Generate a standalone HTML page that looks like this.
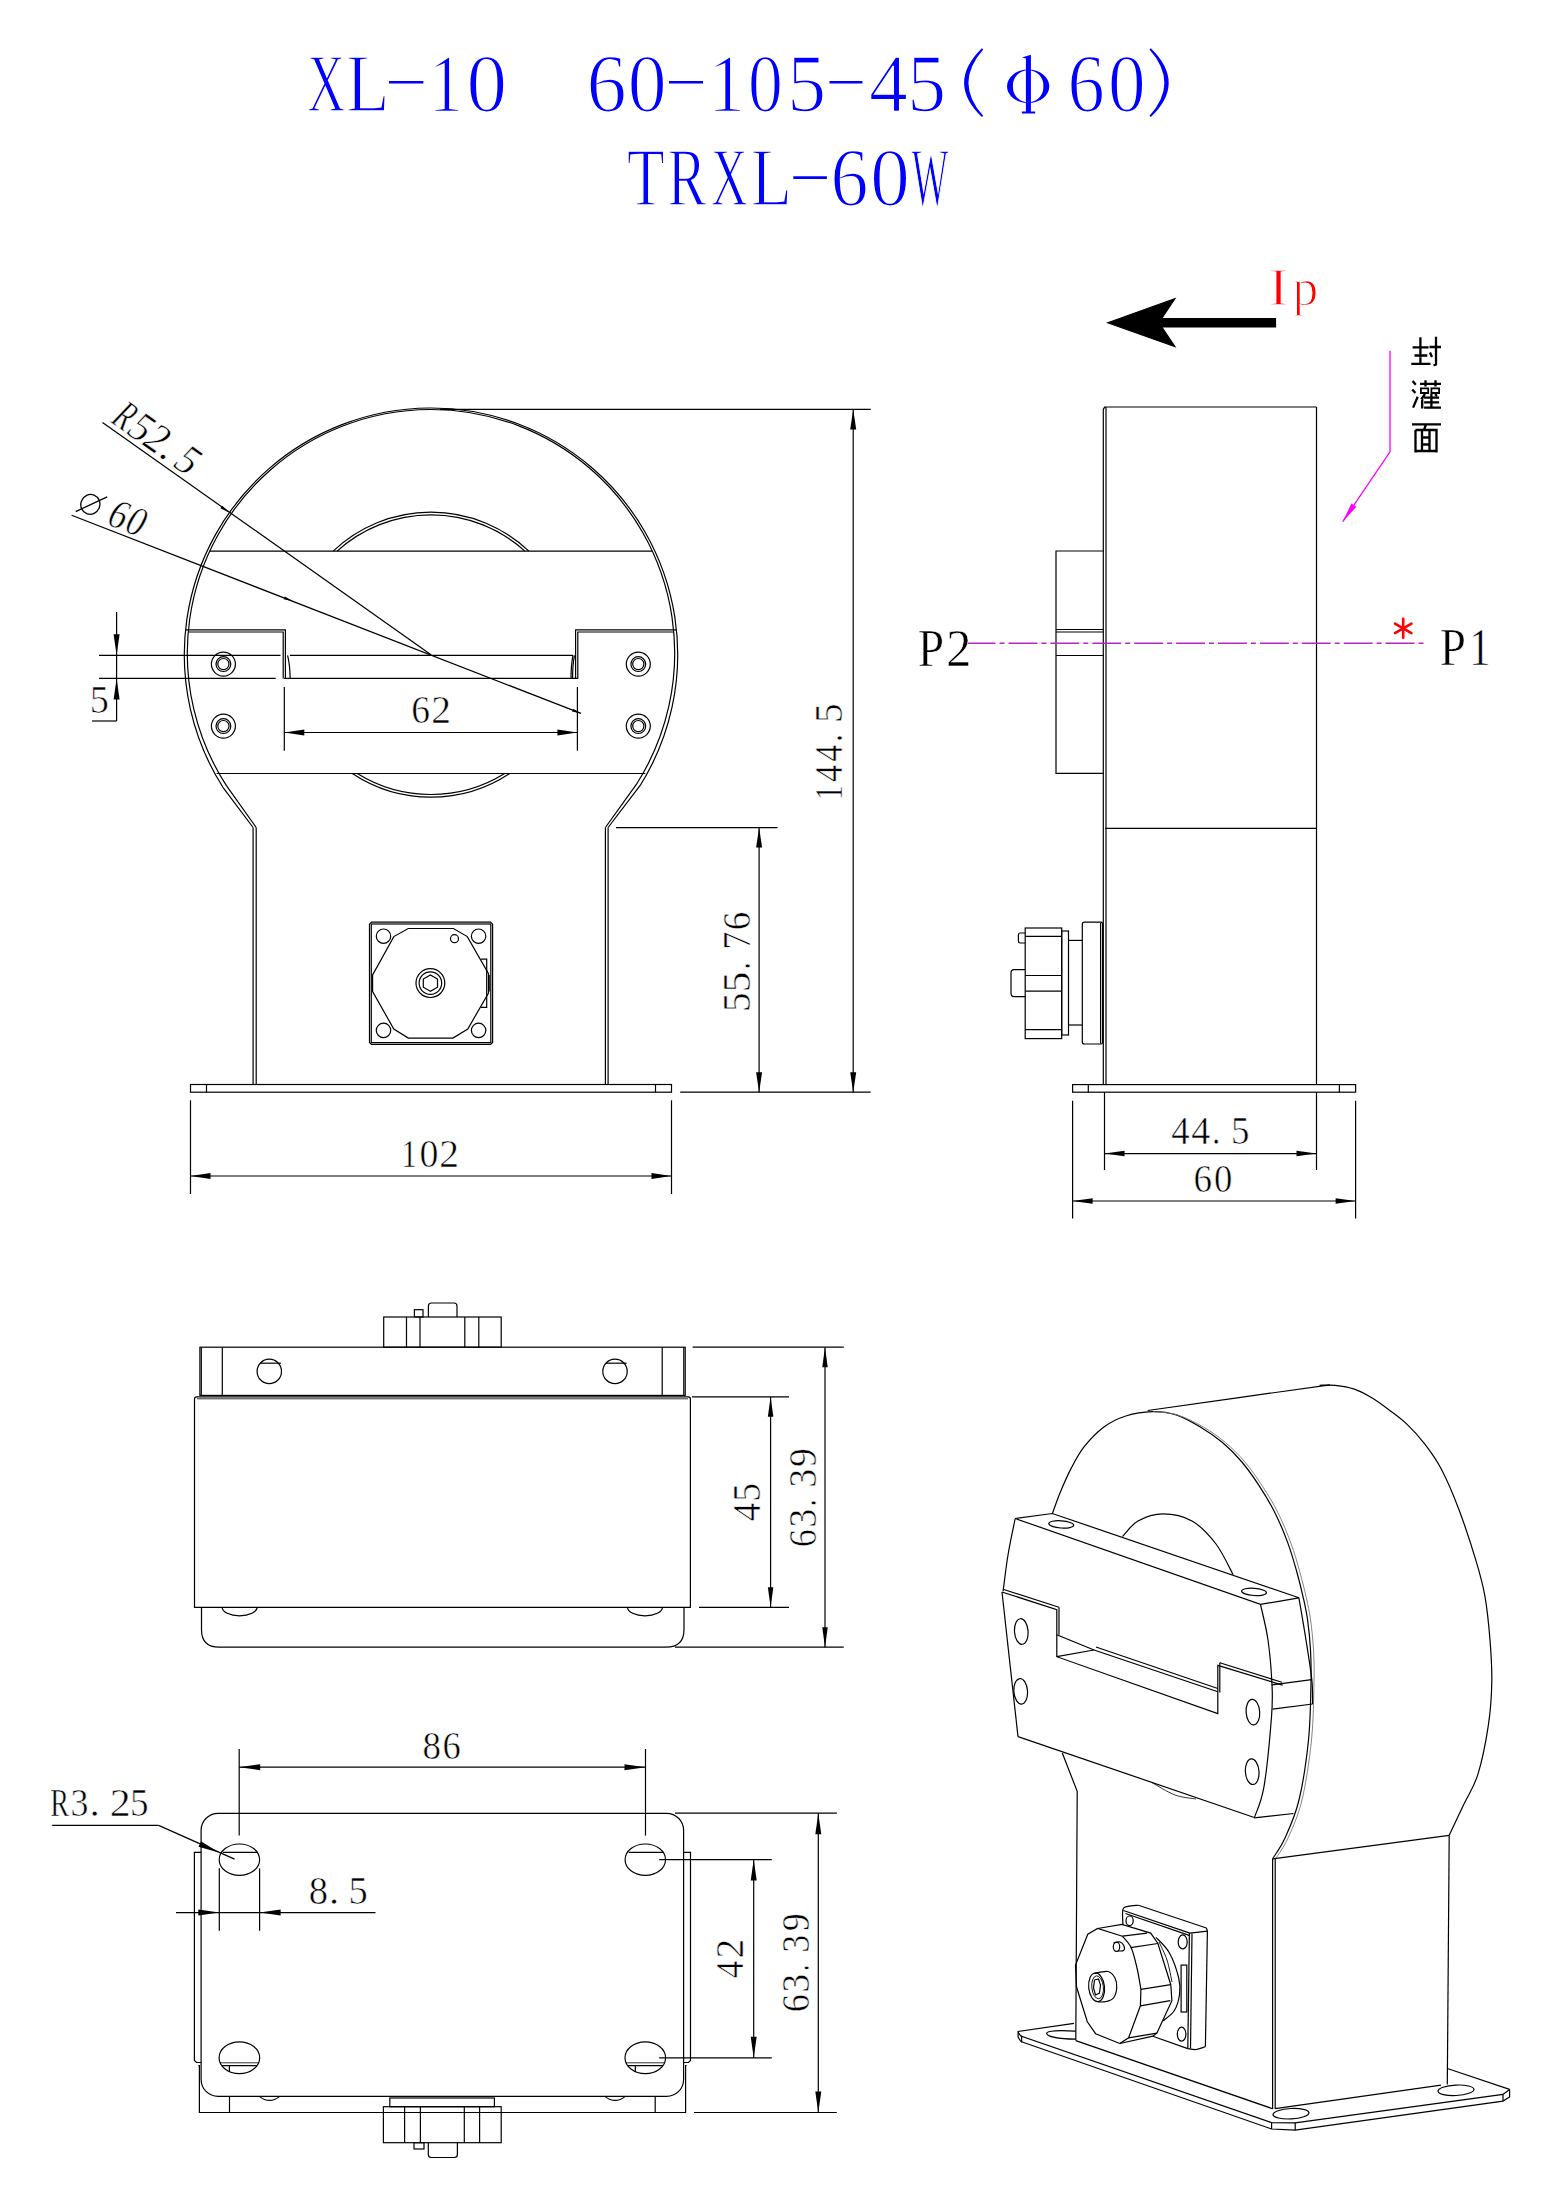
<!DOCTYPE html>
<html><head><meta charset="utf-8"><style>
html,body{margin:0;padding:0;background:#fff;}
svg{display:block;font-family:"Liberation Serif",serif;}
</style></head><body>
<svg width="1552" height="2191" viewBox="0 0 1552 2191">
<rect x="0" y="0" width="1552" height="2191" fill="#fff" stroke="none"/>
<g fill="#0000ff" stroke="#fff" stroke-width="1.6"><text transform="translate(307.35 110.8) scale(0.64 1)" font-size="81.86">X</text><text transform="translate(346.06 110.8) scale(0.87 1)" font-size="81.86">L</text><text transform="translate(428.73 110.8) scale(0.84 1)" font-size="81.86">1</text><text transform="translate(466.62 110.8) scale(0.99 1)" font-size="81.86">0</text><text transform="translate(586.45 110.8) scale(0.98 1)" font-size="81.86">6</text><text transform="translate(627.83 110.8) scale(0.95 1)" font-size="81.86">0</text><text transform="translate(707.93 110.8) scale(0.91 1)" font-size="81.86">1</text><text transform="translate(748.05 110.8) scale(0.85 1)" font-size="81.86">0</text><text transform="translate(787.19 110.8) scale(0.95 1)" font-size="81.86">5</text><text transform="translate(869.08 110.8) scale(0.95 1)" font-size="81.86">4</text><text transform="translate(907.2 110.8) scale(0.95 1)" font-size="81.86">5</text><text transform="translate(1067.6 110.8) scale(0.91 1)" font-size="81.86">6</text><text transform="translate(1107.93 110.8) scale(0.92 1)" font-size="81.86">0</text></g>
<g stroke="#0000ff" stroke-width="2.6">
<line x1="389" y1="82.3" x2="423.4" y2="82.3"/>
<line x1="669" y1="82.3" x2="703" y2="82.3"/>
<line x1="829.5" y1="82.3" x2="862.4" y2="82.3"/>
<line x1="793.3" y1="177.6" x2="826.9" y2="177.6"/>
</g>
<path fill="#0000ff" stroke="none" d="M 981.9 48.2 Q 946.3 83 981.9 117 L 983.2 115.8 Q 953.7 83 983.2 49.4 Z"/>
<path fill="#0000ff" stroke="none" d="M 1150.8 48.2 Q 1186.6 83 1150.8 117 L 1149.5 115.8 Q 1179.2 83 1149.5 49.4 Z"/>
<path fill="#0000ff" stroke="none" fill-rule="evenodd" d="M 1007 86.3 A 21.1 16.7 0 1 0 1049.3 86.3 A 21.1 16.7 0 1 0 1007 86.3 Z M 1013 86.3 A 15.2 14.8 0 1 0 1043.3 86.3 A 15.2 14.8 0 1 0 1013 86.3 Z"/>
<path fill="#0000ff" stroke="none" d="M 1025.9 58.5 L 1022 57.5 L 1030.9 54.8 V 111.6 H 1035.2 V 113.6 H 1021.9 V 111.6 H 1025.9 Z"/>
<g fill="#0000ff" stroke="#fff" stroke-width="1.6"><text transform="translate(626.98 205.4) scale(0.74 1)" font-size="83.23">T</text><text transform="translate(667.52 205.4) scale(0.7 1)" font-size="83.23">R</text><text transform="translate(710.98 205.4) scale(0.61 1)" font-size="83.23">X</text><text transform="translate(750.75 205.4) scale(0.81 1)" font-size="83.23">L</text><text transform="translate(830.53 205.4) scale(0.91 1)" font-size="83.23">6</text><text transform="translate(870.28 205.4) scale(0.95 1)" font-size="83.23">0</text><text transform="translate(911.56 205.4) scale(0.47 1)" font-size="83.23">W</text></g>
<g fill="none" stroke="#000" stroke-width="1.2">
<path d="M 253.1 827.5 L 222.97 787.3 A 246.7 246.7 0 1 1 640.36 785.2 L 608.1 827.5"/>
<path d="M 256.2 827.5 L 226.27 785.4 A 243.7 243.7 0 1 1 637.07 783.3 L 605.4 827.5"/>
<line x1="253.1" y1="827.5" x2="253.1" y2="1084.5"/>
<line x1="256.2" y1="827.5" x2="256.2" y2="1084.5"/>
<line x1="605.4" y1="827.5" x2="605.4" y2="1084.5"/>
<line x1="608.1" y1="827.5" x2="608.1" y2="1084.5"/>
<rect x="190.5" y="1084.5" width="481" height="7.7"/>
<line x1="206.5" y1="1084.5" x2="206.5" y2="1092.2"/>
<line x1="655.5" y1="1084.5" x2="655.5" y2="1092.2"/>
<line x1="209.51" y1="551.1" x2="652.49" y2="551.1"/>
<line x1="216.57" y1="773.5" x2="645.43" y2="773.5"/>
<path d="M 333.16 551.1 A 142.5 142.5 0 0 1 528.84 551.1"/>
<path d="M 352.31 773.5 A 142.5 142.5 0 0 0 509.69 773.5"/>
<path d="M 337.13 551.1 A 139.8 139.8 0 0 1 524.87 551.1"/>
<path d="M 357.31 773.5 A 139.8 139.8 0 0 0 504.69 773.5"/>
<polyline points="185.54,629.8 285.4,629.8 285.4,678.4"/>
<polyline points="575.6,678.4 575.6,629.8 676.46,629.8"/>
<polyline points="188.41,632 283.2,632 283.2,678.4"/>
<polyline points="577.8,678.4 577.8,632 673.59,632"/>
<line x1="99" y1="655.3" x2="280.5" y2="655.3"/>
<line x1="290" y1="655.3" x2="573" y2="655.3"/>
<line x1="99" y1="678.4" x2="275.7" y2="678.4"/>
<line x1="284" y1="678.4" x2="578" y2="678.4"/>
<path d="M 287.6 655.3 Q 290 665 290.2 679"/>
<path d="M 573 655.3 Q 571 665 571 678.4"/>
<path d="M 574.5 655.3 Q 572.5 665 572.6 678.4"/>
<circle cx="223.4" cy="664.1" r="12"/>
<circle cx="223.4" cy="664.1" r="7.4"/>
<circle cx="223.4" cy="664.1" r="5.6"/>
<circle cx="223.4" cy="726.1" r="12"/>
<circle cx="223.4" cy="726.1" r="7.4"/>
<circle cx="223.4" cy="726.1" r="5.6"/>
<circle cx="638.3" cy="664.1" r="12"/>
<circle cx="638.3" cy="664.1" r="7.4"/>
<circle cx="638.3" cy="664.1" r="5.6"/>
<circle cx="638.3" cy="726.1" r="12"/>
<circle cx="638.3" cy="726.1" r="7.4"/>
<circle cx="638.3" cy="726.1" r="5.6"/>
<polygon points="371.5,922.2 490.6,922.2 492.6,924.2 492.6,1042.4 490.6,1044.4 371.5,1044.4 369.5,1042.4 369.5,924.2"/>
<rect x="371.3" y="924" width="119.5" height="118.6"/>
<polygon points="408.3,928.5 453.4,928.5 467.3,936.6 488.5,973.6 488.5,993 467.8,1029 452.9,1038.1 408.3,1038.1 393.8,1029 372.6,991.6 372.6,975 393.8,936.6"/>
<polyline points="481,959.2 486.7,959.2 486.7,1007.4 481,1007.4"/>
<line x1="489.2" y1="975" x2="489.2" y2="991.6"/>
<circle cx="383.5" cy="936.2" r="7.2"/>
<circle cx="383.5" cy="1030.4" r="7.2"/>
<circle cx="478.6" cy="936.2" r="7.2"/>
<circle cx="478.6" cy="1030.4" r="7.2"/>
<circle cx="454.5" cy="938.7" r="4"/>
<circle cx="430.4" cy="983.1" r="14.4"/>
<circle cx="430.4" cy="983.1" r="11.3"/>
<polygon points="430.4,991.3 423.3,987.2 423.3,979 430.4,974.9 437.5,979 437.5,987.2"/>
<line x1="102.5" y1="422.5" x2="431" y2="654.7"/>
<polygon points="229.5,512.7 220.47,508.15 222.2,505.7" fill="#000" stroke="none"/>
<line x1="71.6" y1="515.3" x2="581" y2="713.4"/>
<polygon points="292.7,601.1 283.77,599.24 284.86,596.44" fill="#000" stroke="none"/>
<polygon points="581,713.4 572.07,711.54 573.16,708.74" fill="#000" stroke="none"/>
<line x1="116.6" y1="612" x2="116.6" y2="721"/>
<line x1="92" y1="721" x2="116.6" y2="721"/>
<polygon points="116.6,655.3 113.6,634.3 119.6,634.3" fill="#000" stroke="none"/>
<polygon points="116.6,678.4 119.6,699.4 113.6,699.4" fill="#000" stroke="none"/>
<line x1="284.3" y1="687" x2="284.3" y2="750.7"/>
<line x1="577.4" y1="687" x2="577.4" y2="750.7"/>
<line x1="284.3" y1="732.5" x2="577.4" y2="732.5"/>
<polygon points="284.3,732.5 304.3,729.5 304.3,735.5" fill="#000" stroke="none"/>
<polygon points="577.4,732.5 557.4,735.5 557.4,729.5" fill="#000" stroke="none"/>
<line x1="190.5" y1="1100.3" x2="190.5" y2="1194"/>
<line x1="671.5" y1="1100.3" x2="671.5" y2="1194"/>
<line x1="190.5" y1="1176" x2="671.5" y2="1176"/>
<polygon points="190.5,1176 210.5,1173 210.5,1179" fill="#000" stroke="none"/>
<polygon points="671.5,1176 651.5,1179 651.5,1173" fill="#000" stroke="none"/>
<line x1="440" y1="409.4" x2="870.8" y2="409.4"/>
<line x1="680.2" y1="1092.2" x2="870.6" y2="1092.2"/>
<line x1="616" y1="827.6" x2="777.6" y2="827.6"/>
<line x1="853.2" y1="409.4" x2="853.2" y2="1092.2"/>
<polygon points="853.2,409.4 856.2,429.4 850.2,429.4" fill="#000" stroke="none"/>
<polygon points="853.2,1092.2 850.2,1072.2 856.2,1072.2" fill="#000" stroke="none"/>
<line x1="759.1" y1="827.6" x2="759.1" y2="1092.2"/>
<polygon points="759.1,827.6 762.1,847.6 756.1,847.6" fill="#000" stroke="none"/>
<polygon points="759.1,1092.2 756.1,1072.2 762.1,1072.2" fill="#000" stroke="none"/>
<line x1="1104.5" y1="407" x2="1316.5" y2="407"/>
<line x1="1316.5" y1="407" x2="1316.5" y2="1084.5"/>
<line x1="1103.3" y1="409" x2="1103.3" y2="1084.5"/>
<line x1="1106" y1="407" x2="1106" y2="1084.5"/>
<line x1="1103.3" y1="409" x2="1105" y2="407"/>
<line x1="1105" y1="828.3" x2="1316.5" y2="828.3"/>
<polyline points="1104,551 1056,551 1056,773.4 1104,773.4"/>
<line x1="1056" y1="629.5" x2="1104" y2="629.5"/>
<line x1="1056" y1="632" x2="1104" y2="632"/>
<line x1="1056" y1="655.5" x2="1104" y2="655.5"/>
<path d="M 1084.5 922.2 H 1101 Q 1102.6 922.2 1102.6 924 V 1042.2 Q 1102.6 1044 1101 1044 H 1084.5 Q 1082.3 1044 1082.3 1042 V 924.2 Q 1082.3 922.2 1084.5 922.2 Z"/>
<line x1="1100.6" y1="923" x2="1100.6" y2="1043.5"/>
<rect x="1025.2" y="928" width="36.5" height="110.6"/>
<line x1="1025.2" y1="936.3" x2="1061.7" y2="936.3"/>
<line x1="1025.2" y1="975.5" x2="1061.7" y2="975.5"/>
<line x1="1025.2" y1="991.2" x2="1061.7" y2="991.2"/>
<line x1="1025.2" y1="1029.7" x2="1061.7" y2="1029.7"/>
<rect x="1061.7" y="931" width="6.8" height="104"/>
<polyline points="1068.5,940.4 1082.3,940.4"/>
<polyline points="1068.5,1025 1082.3,1025"/>
<path d="M 1025.2 933 H 1020 Q 1018.4 933 1018.4 935 V 941 Q 1018.4 943 1020 943 H 1025.2"/>
<path d="M 1025.2 969.6 H 1014 Q 1011 969.6 1011 973 V 993 Q 1011 996.6 1014 996.6 H 1025.2"/>
<rect x="1072.6" y="1084.6" width="283" height="7.6"/>
<line x1="1088.3" y1="1084.6" x2="1088.3" y2="1092.2"/>
<line x1="1339.4" y1="1084.6" x2="1339.4" y2="1092.2"/>
<line x1="1104.5" y1="1092.2" x2="1104.5" y2="1170"/>
<line x1="1316.5" y1="1092.2" x2="1316.5" y2="1170"/>
<line x1="1104.5" y1="1153.6" x2="1316.5" y2="1153.6"/>
<polygon points="1104.5,1153.6 1124.5,1150.85 1124.5,1156.35" fill="#000" stroke="none"/>
<polygon points="1316.5,1153.6 1296.5,1156.35 1296.5,1150.85" fill="#000" stroke="none"/>
<line x1="1072.6" y1="1100.8" x2="1072.6" y2="1218.6"/>
<line x1="1355.6" y1="1100.8" x2="1355.6" y2="1218.6"/>
<line x1="1072.6" y1="1201" x2="1355.6" y2="1201"/>
<polygon points="1072.6,1201 1092.6,1198.25 1092.6,1203.75" fill="#000" stroke="none"/>
<polygon points="1355.6,1201 1335.6,1203.75 1335.6,1198.25" fill="#000" stroke="none"/>
<rect x="199.9" y="1347.2" width="485.3" height="48.2"/>
<line x1="201.3" y1="1347.2" x2="201.3" y2="1395.4"/>
<line x1="683.8" y1="1347.2" x2="683.8" y2="1395.4"/>
<line x1="222.3" y1="1347.2" x2="222.3" y2="1395.4"/>
<line x1="662.2" y1="1347.2" x2="662.2" y2="1395.4"/>
<circle cx="269.3" cy="1371.4" r="12.2"/>
<line x1="260" y1="1363.2" x2="280.9" y2="1363.2"/>
<circle cx="615" cy="1371.4" r="12.2"/>
<line x1="605.7" y1="1363.2" x2="626.6" y2="1363.2"/>
<path d="M 194.5 1607.3 V 1399 Q 194.5 1396.8 196.7 1396.8 H 688.2 Q 690.4 1396.8 690.4 1399 V 1607.3 Z"/>
<line x1="197" y1="1398.8" x2="688" y2="1398.8" stroke-width="0.8"/>
<path d="M 201.5 1607.3 V 1629.5 Q 201.5 1647.2 219 1647.2 H 666 Q 684 1647.2 684 1629.5 V 1607.3"/>
<path d="M 222.1 1607.3 A 17.5 8.5 0 0 0 257.1 1607.3"/>
<path d="M 627.5 1607.3 A 17.5 8.5 0 0 0 662.5 1607.3"/>
<rect x="383.7" y="1317" width="117.5" height="30.2"/>
<line x1="406.5" y1="1317" x2="406.5" y2="1347.2"/>
<line x1="420" y1="1317" x2="420" y2="1347.2"/>
<line x1="464.8" y1="1317" x2="464.8" y2="1347.2"/>
<line x1="478.8" y1="1317" x2="478.8" y2="1347.2"/>
<path d="M 428.4 1317 V 1306 Q 428.4 1303 431.5 1303 H 454 Q 457 1303 457 1306 V 1317"/>
<rect x="414.4" y="1309.7" width="8.6" height="7.3"/>
<line x1="692.6" y1="1347.2" x2="843.8" y2="1347.2"/>
<line x1="692" y1="1396.8" x2="789" y2="1396.8"/>
<line x1="699" y1="1607.3" x2="789" y2="1607.3"/>
<line x1="675" y1="1647.2" x2="843.8" y2="1647.2"/>
<line x1="770.6" y1="1396.8" x2="770.6" y2="1607.3"/>
<polygon points="770.6,1396.8 773.35,1416.8 767.85,1416.8" fill="#000" stroke="none"/>
<polygon points="770.6,1607.3 767.85,1587.3 773.35,1587.3" fill="#000" stroke="none"/>
<line x1="825" y1="1347.2" x2="825" y2="1647.2"/>
<polygon points="825,1347.2 827.75,1367.2 822.25,1367.2" fill="#000" stroke="none"/>
<polygon points="825,1647.2 822.25,1627.2 827.75,1627.2" fill="#000" stroke="none"/>
<rect x="201.1" y="1813.3" width="482.5" height="283.1" rx="17"/>
<path d="M 201.1 2062.5 H 196.5 L 194.4 2060.5 V 1852.3 H 201.1"/>
<path d="M 683.6 2062.5 H 688.5 L 690.5 2060.5 V 1852.3 H 683.6"/>
<polyline points="198.4,2065.6 199.4,2065.6 199.4,2112.5 685.6,2112.5 685.6,2065.6 686.6,2065.6"/>
<line x1="229.5" y1="2096.4" x2="229.5" y2="2112.5"/>
<line x1="655.2" y1="2096.4" x2="655.2" y2="2112.5"/>
<ellipse cx="239.4" cy="1859.7" rx="20.2" ry="15.7"/>
<line x1="222.9" y1="1852.3" x2="257.4" y2="1852.3"/>
<ellipse cx="239.4" cy="2057.8" rx="20.3" ry="15.9"/>
<line x1="219.9" y1="2062.8" x2="258.9" y2="2062.8" stroke-width="0.8"/>
<line x1="221.9" y1="2065.6" x2="256.9" y2="2065.6"/>
<line x1="229.4" y1="2065.6" x2="229.4" y2="2072"/>
<ellipse cx="645.3" cy="1859.7" rx="20.2" ry="15.7"/>
<line x1="628.8" y1="1852.3" x2="663.3" y2="1852.3"/>
<ellipse cx="645.3" cy="2057.8" rx="20.3" ry="15.9"/>
<line x1="625.8" y1="2062.8" x2="664.8" y2="2062.8" stroke-width="0.8"/>
<line x1="627.8" y1="2065.6" x2="662.8" y2="2065.6"/>
<line x1="635.3" y1="2065.6" x2="635.3" y2="2072"/>
<path d="M 259.2 2096.4 Q 269.5 2104.5 279.8 2096.4"/>
<path d="M 604.8 2096.4 Q 615.1 2104.5 625.4 2096.4"/>
<rect x="389.8" y="2098" width="104.6" height="8.7"/>
<rect x="383.4" y="2106.7" width="117.8" height="36"/>
<line x1="404.6" y1="2106.7" x2="404.6" y2="2142.7"/>
<line x1="420.4" y1="2106.7" x2="420.4" y2="2142.7"/>
<line x1="464.3" y1="2106.7" x2="464.3" y2="2142.7"/>
<line x1="479.6" y1="2106.7" x2="479.6" y2="2142.7"/>
<path d="M 428.3 2142.7 V 2154.5 Q 428.3 2157.5 431.3 2157.5 H 454.4 Q 457.4 2157.5 457.4 2154.5 V 2142.7"/>
<rect x="414" y="2142.7" width="10" height="6.3"/>
<line x1="239.2" y1="1749" x2="239.2" y2="1835.6"/>
<line x1="645.5" y1="1749" x2="645.5" y2="1835.6"/>
<line x1="239.2" y1="1767.2" x2="645.5" y2="1767.2"/>
<polygon points="239.2,1767.2 260.2,1764.2 260.2,1770.2" fill="#000" stroke="none"/>
<polygon points="645.5,1767.2 624.5,1770.2 624.5,1764.2" fill="#000" stroke="none"/>
<line x1="52.2" y1="1825.4" x2="158.6" y2="1825.4"/>
<line x1="158.6" y1="1825.4" x2="234.5" y2="1859.1"/>
<polygon points="218.9,1852.5 198.52,1846.63 200.98,1841.16" fill="#000" stroke="none"/>
<line x1="219.3" y1="1868.3" x2="219.3" y2="1930.7"/>
<line x1="259.6" y1="1868.3" x2="259.6" y2="1930.7"/>
<line x1="176" y1="1912.6" x2="375.5" y2="1912.6"/>
<polygon points="219.3,1912.6 198.3,1915.6 198.3,1909.6" fill="#000" stroke="none"/>
<polygon points="259.6,1912.6 280.6,1909.6 280.6,1915.6" fill="#000" stroke="none"/>
<line x1="659.2" y1="1859.6" x2="771.8" y2="1859.6"/>
<line x1="659.2" y1="2057.8" x2="771.8" y2="2057.8"/>
<line x1="753.7" y1="1859.6" x2="753.7" y2="2057.8"/>
<polygon points="753.7,1859.6 756.7,1880.6 750.7,1880.6" fill="#000" stroke="none"/>
<polygon points="753.7,2057.8 750.7,2036.8 756.7,2036.8" fill="#000" stroke="none"/>
<line x1="675" y1="1813.2" x2="836.8" y2="1813.2"/>
<line x1="694" y1="2112.5" x2="836.8" y2="2112.5"/>
<line x1="818.3" y1="1813.2" x2="818.3" y2="2112.5"/>
<polygon points="818.3,1813.2 821.3,1834.2 815.3,1834.2" fill="#000" stroke="none"/>
<polygon points="818.3,2112.5 815.3,2091.5 821.3,2091.5" fill="#000" stroke="none"/>
<polygon points="1107.7,322.7 1174.9,298.7 1161.7,318.5 1275.5,318.5 1275.5,326.9 1161.7,326.9 1174.9,346.7" fill="#000"/>
<line x1="966.6" y1="643.2" x2="1426.9" y2="643.2" stroke="#b428c4" stroke-width="1.4" stroke-dasharray="28.9 4 5 4"/>
<polyline points="1390,350.7 1390,451.8 1342.7,521.7" stroke-width="1.3" stroke="#ff00ff"/>
<polygon points="1342.7,521.7 1351.42,503.45 1356.39,506.82" fill="#ff00ff" stroke="none"/>
<path d="M 1147.7 1410.5 C 1178.08 1406.22 1299.62 1389.08 1330 1384.8"/>
<path d="M 1319.6 1385.3 C 1322.2 1385.3 1329.4 1384.67 1335.2 1385.3 C 1341 1385.93 1348.3 1387.02 1354.4 1389.1 C 1360.5 1391.18 1366 1394.32 1371.8 1397.8 C 1377.6 1401.28 1383.4 1405.65 1389.2 1410 C 1395 1414.35 1400.8 1418.38 1406.6 1423.9 C 1412.4 1429.42 1418.2 1435.55 1424 1443.1 C 1429.8 1450.65 1435.6 1458.18 1441.4 1469.2 C 1447.2 1480.22 1453 1493.83 1458.8 1509.2 C 1464.6 1524.57 1471.85 1546.9 1476.2 1561.4 C 1480.55 1575.9 1482.6 1583.1 1484.9 1596.2 C 1487.2 1609.3 1488.85 1625.67 1490 1640 C 1491.15 1654.33 1492.08 1667.92 1491.8 1682.2 C 1491.52 1696.48 1490.62 1710.33 1488.3 1725.7 C 1485.98 1741.07 1481.95 1761.35 1477.9 1774.4 C 1473.85 1787.45 1468.78 1793.85 1464 1804 C 1459.22 1814.15 1451.67 1830.08 1449.2 1835.3"/>
<path d="M 1052.4 1513.5 C 1053.68 1510.03 1057 1500.18 1060.1 1492.7 C 1063.2 1485.22 1066.98 1476.27 1071 1468.6 C 1075.02 1460.93 1078.72 1453.63 1084.2 1446.7 C 1089.68 1439.77 1096.97 1432.12 1103.9 1427 C 1110.83 1421.88 1117.77 1418.57 1125.8 1416 C 1133.83 1413.43 1143.7 1411.78 1152.1 1411.6 C 1160.5 1411.42 1168.17 1412.33 1176.2 1414.9 C 1184.23 1417.47 1192.63 1422.43 1200.3 1427 C 1207.97 1431.57 1215.27 1436.47 1222.2 1442.3 C 1229.13 1448.13 1235.7 1454.7 1241.9 1462 C 1248.1 1469.3 1253.92 1477.7 1259.4 1486.1 C 1264.88 1494.5 1270.05 1502.9 1274.8 1512.4 C 1279.55 1521.9 1284.25 1533.25 1287.9 1543.1 C 1291.55 1552.95 1294.13 1562.38 1296.7 1571.5 C 1299.27 1580.62 1301.48 1589.72 1303.3 1597.8 C 1305.12 1605.88 1306.4 1611.3 1307.6 1620 C 1308.8 1628.7 1309.93 1639.63 1310.5 1650 C 1311.07 1660.37 1311.33 1667.2 1311 1682.2 C 1310.67 1697.2 1310.5 1720.37 1308.5 1740 C 1306.5 1759.63 1302.92 1783.67 1299 1800 C 1295.08 1816.33 1289.4 1828.2 1285 1838 C 1280.6 1847.8 1274.67 1855.33 1272.6 1858.8"/>
<path d="M 1153.1 1411.6 C 1157.12 1412.15 1168.83 1412.33 1177.2 1414.9 C 1185.57 1417.47 1195.3 1422.43 1203.3 1427 C 1211.3 1431.57 1218.27 1436.47 1225.2 1442.3 C 1232.13 1448.13 1238.7 1454.7 1244.9 1462 C 1251.1 1469.3 1256.92 1477.7 1262.4 1486.1 C 1267.88 1494.5 1273.05 1502.9 1277.8 1512.4 C 1282.55 1521.9 1287.25 1533.25 1290.9 1543.1 C 1294.55 1552.95 1297.13 1562.38 1299.7 1571.5 C 1302.27 1580.62 1304.48 1589.72 1306.3 1597.8 C 1308.12 1605.88 1309.4 1611.3 1310.6 1620 C 1311.8 1628.7 1312.93 1639.63 1313.5 1650 C 1314.07 1660.37 1314.33 1667.2 1314 1682.2 C 1313.67 1697.2 1313.5 1720.37 1311.5 1740 C 1309.5 1759.63 1305.92 1783.67 1302 1800 C 1298.08 1816.33 1292.4 1828.2 1288 1838 C 1283.6 1847.8 1277.67 1855.33 1275.6 1858.8" stroke-width="0.9" stroke="#777"/>
<path d="M 1122.5 1536.5 C 1125.08 1533.92 1131.25 1524.77 1138 1521 C 1144.75 1517.23 1154 1513.9 1163 1513.9 C 1172 1513.9 1183.17 1515.98 1192 1521 C 1200.83 1526.02 1209.13 1535.03 1216 1544 C 1222.87 1552.97 1230.33 1569.67 1233.2 1574.8"/>
<path d="M 1152 1782.6 C 1155.83 1784.67 1167.67 1792.27 1175 1795 C 1182.33 1797.73 1192.5 1798.33 1196 1799" stroke-width="0.8"/>
<polygon points="1015.2,1518.5 1052.4,1513.5 1298.9,1597.8 1260.5,1604.4"/>
<ellipse cx="1061.2" cy="1524.4" rx="12.5" ry="3.6" transform="rotate(4 1061.2 1524.4)"/>
<ellipse cx="1254" cy="1591.9" rx="12.5" ry="3.6" transform="rotate(4 1254 1591.9)"/>
<path d="M 1015.2 1518.5 C 1014 1524.58 1010.02 1542.88 1008 1555 C 1005.98 1567.12 1003.92 1585.17 1003.1 1591.2"/>
<path d="M 1260.5 1604.4 C 1261.75 1610.33 1266.08 1626.6 1268 1640 C 1269.92 1653.4 1271.42 1671.97 1272 1684.8 C 1272.58 1697.63 1272.83 1700.03 1271.5 1717 C 1270.17 1733.97 1266.87 1769.78 1264 1786.6 C 1261.13 1803.42 1255.92 1812.68 1254.3 1817.9"/>
<path d="M 1298.9 1597.8 C 1300.08 1604.83 1303.85 1626.37 1306 1640 C 1308.15 1653.63 1310.7 1668.93 1311.8 1679.6 C 1312.9 1690.27 1312.47 1699.93 1312.6 1704"/>
<line x1="1271.7" y1="1684.8" x2="1311.8" y2="1679.6"/>
<line x1="1272.6" y1="1709.2" x2="1312.6" y2="1704"/>
<line x1="1254.3" y1="1817.9" x2="1293.5" y2="1813.5"/>
<line x1="1002" y1="1592" x2="1018" y2="1736.6"/>
<line x1="1018" y1="1736.6" x2="1255" y2="1817.7"/>
<polyline points="1002,1592 1056.8,1609.6 1056.8,1656.7 1217.8,1713.6 1217.8,1665.4 1282.6,1685.1"/>
<line x1="1003" y1="1589.2" x2="1059" y2="1607.2"/>
<line x1="1059" y1="1607.2" x2="1059" y2="1634.8"/>
<line x1="1219.8" y1="1662.8" x2="1282" y2="1682.3"/>
<line x1="1219.8" y1="1662.8" x2="1219.8" y2="1692.5"/>
<line x1="1056.8" y1="1634.8" x2="1094" y2="1650"/>
<line x1="1094" y1="1650" x2="1217.8" y2="1691.7"/>
<line x1="1096" y1="1647" x2="1217.8" y2="1688.5"/>
<line x1="1056.8" y1="1656.7" x2="1094" y2="1650"/>
<ellipse cx="1021.3" cy="1631.5" rx="6.8" ry="12.8" transform="rotate(-4 1021.3 1631.5)"/>
<ellipse cx="1020.7" cy="1691.3" rx="6.8" ry="12.8" transform="rotate(-4 1020.7 1691.3)"/>
<ellipse cx="1252.9" cy="1712.1" rx="6.8" ry="12.8" transform="rotate(-4 1252.9 1712.1)"/>
<ellipse cx="1252.2" cy="1771.7" rx="6.8" ry="12.8" transform="rotate(-4 1252.2 1771.7)"/>
<polyline points="1062.3,1753 1077.2,1791.4 1075.8,2040.6"/>
<line x1="1272.6" y1="1858.8" x2="1272.6" y2="2109"/>
<line x1="1275.2" y1="1858.8" x2="1275.2" y2="2109"/>
<line x1="1272.6" y1="1858.8" x2="1449.2" y2="1835.3"/>
<line x1="1449.2" y1="1835.3" x2="1447.3" y2="2084.4"/>
<polyline points="1074,2023.4 1018.1,2031.5 1018.1,2037 1020.8,2041.5"/>
<polyline points="1018.1,2032.4 1020.8,2036 1271.6,2122.6 1295.2,2122.9 1503,2094.4 1509.6,2089.4"/>
<polyline points="1020.8,2041.5 1271.6,2129 1295.2,2130.1 1503,2101.1 1509.6,2097 1509.6,2089.4"/>
<line x1="1447.3" y1="2068.5" x2="1509.6" y2="2089.4"/>
<line x1="1275.2" y1="2108.7" x2="1441" y2="2085.2"/>
<line x1="1271.6" y1="2122.6" x2="1271.6" y2="2129"/>
<line x1="1295.2" y1="2122.9" x2="1295.2" y2="2130.1"/>
<line x1="1503" y1="2094.4" x2="1503" y2="2101.1"/>
<path d="M 1075.8 2031.2 C 1060 2030, 1046 2030.5, 1046.7 2033.6 C 1047.5 2036.5, 1058 2039, 1075.8 2039.2"/>
<line x1="1075.8" y1="2040.6" x2="1272.6" y2="2108.7"/>
<line x1="1021.6" y1="2035.5" x2="1021.6" y2="2042.5"/>
<ellipse cx="1291" cy="2113.7" rx="18" ry="5.2" transform="rotate(-3 1291 2113.7)"/>
<ellipse cx="1456" cy="2090.3" rx="18" ry="5.2" transform="rotate(-3 1456 2090.3)"/>
<path d="M 1122.9 1924.9 C 1122.9 1922.32 1122.05 1912.5 1122.9 1909.4 C 1123.75 1906.3 1125.42 1906.98 1128 1906.3 C 1130.58 1905.62 1136.67 1905.47 1138.4 1905.3"/>
<line x1="1138.4" y1="1905.3" x2="1206.4" y2="1928"/>
<line x1="1206.4" y1="1928" x2="1207.4" y2="1931.1"/>
<line x1="1123.4" y1="1910.5" x2="1189.9" y2="1933.1"/>
<line x1="1125.5" y1="1913.5" x2="1189.9" y2="1935.6"/>
<line x1="1189.9" y1="1933.1" x2="1207.4" y2="1931.1"/>
<line x1="1189.4" y1="1933.1" x2="1187.8" y2="2048.6"/>
<line x1="1192" y1="1933.5" x2="1190.5" y2="2048.6"/>
<line x1="1207.4" y1="1931.1" x2="1205.4" y2="2046.5"/>
<path d="M 1187.8 2048.6 C 1189.17 2048.75 1193.25 2049.77 1196 2049.5 C 1198.75 2049.23 1202.73 2047.5 1204.3 2047 C 1205.87 2046.5 1205.22 2046.58 1205.4 2046.5"/>
<line x1="1152.8" y1="2036.2" x2="1187.8" y2="2048.6"/>
<ellipse cx="1129.6" cy="1920.8" rx="3.6" ry="4.8"/>
<ellipse cx="1182.7" cy="1941.9" rx="4.5" ry="7"/>
<ellipse cx="1181.6" cy="2034.2" rx="4.3" ry="7"/>
<rect x="1181.1" y="1965.1" width="5.7" height="46.9"/>
<polyline points="1122.4,1936.2 1097.6,1928.5 1087.8,1934.2 1075.5,1965.1 1076.5,1986.8 1087.3,2021.8 1095.6,2033.7 1119.8,2043.5"/>
<path d="M 1122.4 1936.2 C 1123.85 1938.1 1128.67 1942.3 1131.1 1947.6 C 1133.53 1952.9 1135.37 1961.05 1137 1968 C 1138.63 1974.95 1140.25 1985.75 1140.9 1989.3"/>
<polyline points="1140.9,1989.3 1140.4,2005.8 1128.6,2037.8 1119.8,2043.5"/>
<polyline points="1097.6,1928.5 1121.9,1924.4 1150.7,1933.1 1157.9,1943.5 1170.8,1984.7 1171.9,2000.7 1156.9,2033.1 1152.8,2036.2 1119.8,2043.5"/>
<line x1="1122.4" y1="1936.2" x2="1147.1" y2="1933.1"/>
<line x1="1130.6" y1="1947.6" x2="1157.9" y2="1943.5"/>
<line x1="1140.9" y1="1989.3" x2="1170.8" y2="1984.7"/>
<line x1="1140.4" y1="2005.8" x2="1170.3" y2="2000.7"/>
<line x1="1128.6" y1="2037.8" x2="1156.9" y2="2033.1"/>
<path d="M 1155.9 1937.3 C 1158.13 1939.87 1165.52 1946 1169.3 1952.7 C 1173.08 1959.4 1176.88 1970.62 1178.6 1977.5 C 1180.32 1984.38 1180.3 1988.5 1179.6 1994 C 1178.9 1999.5 1177.15 2006.03 1174.4 2010.5 C 1171.65 2014.97 1164.98 2019.08 1163.1 2020.8"/>
<path d="M 1159 1942 C 1160.33 1945 1164.83 1953.33 1167 1960 C 1169.17 1966.67 1171.17 1978.33 1172 1982" stroke-width="0.9"/>
<path d="M 1094 1973.5 C 1096.33 1973.17 1104.5 1970.75 1108 1971.5 C 1111.5 1972.25 1113.55 1975.25 1115 1978 C 1116.45 1980.75 1116.95 1984.67 1116.7 1988 C 1116.45 1991.33 1115.2 1995.75 1113.5 1998 C 1111.8 2000.25 1109.08 2000.83 1106.5 2001.5 C 1103.92 2002.17 1099.42 2001.92 1098 2002"/>
<ellipse cx="1096.6" cy="1987.3" rx="7.9" ry="14.4" transform="rotate(-6 1096.6 1987.3)"/>
<ellipse cx="1097.6" cy="1987.3" rx="5.8" ry="11.5" stroke-width="0.9" transform="rotate(-6 1097.6 1987.3)"/>
<polygon points="1094.5,1980 1098.5,1979 1100.5,1985 1099.5,1993 1095.5,1995 1093.5,1988"/>
<path d="M 1113.5 1943 C 1114.58 1942.83 1118.25 1941.5 1120 1942 C 1121.75 1942.5 1123.42 1944.58 1124 1946 C 1124.58 1947.42 1124.5 1949.67 1123.5 1950.5 C 1122.5 1951.33 1118.92 1950.92 1118 1951"/>
<ellipse cx="1116.5" cy="1946.8" rx="3.2" ry="4.6"/>
</g>
<g fill="#000" stroke="#fff" stroke-width="0.6"><text transform="translate(89.78 712.8) scale(0.95 1)" font-size="40.32">5</text></g>
<g fill="#000" stroke="#fff" stroke-width="0.6"><text transform="translate(411.29 722.8) scale(0.93 1)" font-size="40.32">6</text><text transform="translate(431.27 722.8) scale(0.98 1)" font-size="40.32">2</text></g>
<g fill="#000" stroke="#fff" stroke-width="0.6"><text transform="translate(401.13 1166.7) scale(0.78 1)" font-size="40.32">1</text><text transform="translate(419.46 1166.7) scale(0.94 1)" font-size="40.32">0</text><text transform="translate(439.27 1166.7) scale(0.98 1)" font-size="40.32">2</text></g>
<g fill="#000" stroke="#fff" stroke-width="0.6" transform="translate(842.4 0) rotate(-90)"><text transform="translate(-800.52 0) scale(0.77 1)" font-size="40.17">1</text><text transform="translate(-782.07 0) scale(0.85 1)" font-size="40.17">4</text><text transform="translate(-761.87 0) scale(0.85 1)" font-size="40.17">4</text><text transform="translate(-741.92 0) scale(0.8 1)" font-size="40.17">.</text><text transform="translate(-722.99 0) scale(0.98 1)" font-size="40.17">5</text></g>
<g fill="#000" stroke="#fff" stroke-width="0.6" transform="translate(749.7 0) rotate(-90)"><text transform="translate(-1011.98 0) scale(0.97 1)" font-size="40.32">5</text><text transform="translate(-992.18 0) scale(1.02 1)" font-size="40.32">5</text><text transform="translate(-970.08 0) scale(0.82 1)" font-size="40.32">.</text><text transform="translate(-949.43 0) scale(0.88 1)" font-size="40.32">7</text><text transform="translate(-930.29 0) scale(0.92 1)" font-size="40.32">6</text></g>
<g fill="#000" stroke="#fff" stroke-width="0.6"><text transform="translate(1171.18 1144) scale(0.9 1)" font-size="40.93">4</text><text transform="translate(1191.16 1144) scale(0.93 1)" font-size="40.93">4</text><text transform="translate(1211.92 1144) scale(0.81 1)" font-size="40.93">.</text><text transform="translate(1230.95 1144) scale(0.9 1)" font-size="40.93">5</text></g>
<g fill="#000" stroke="#fff" stroke-width="0.6"><text transform="translate(1193.51 1192) scale(0.92 1)" font-size="40.32">6</text><text transform="translate(1214.01 1192) scale(0.91 1)" font-size="40.32">0</text></g>
<g fill="#000" stroke="#fff" stroke-width="0.6" transform="translate(759.6 0) rotate(-90)"><text transform="translate(-1521.21 0) scale(0.91 1)" font-size="40.32">4</text><text transform="translate(-1501.78 0) scale(0.93 1)" font-size="40.32">5</text></g>
<g fill="#000" stroke="#fff" stroke-width="0.6" transform="translate(815.7 0) rotate(-90)"><text transform="translate(-1547.26 0) scale(0.89 1)" font-size="40.93">6</text><text transform="translate(-1527.5 0) scale(0.92 1)" font-size="40.93">3</text><text transform="translate(-1506.98 0) scale(0.81 1)" font-size="40.93">.</text><text transform="translate(-1487.48 0) scale(0.91 1)" font-size="40.93">3</text><text transform="translate(-1467.02 0) scale(0.92 1)" font-size="40.93">9</text></g>
<g fill="#000" stroke="#fff" stroke-width="0.6"><text transform="translate(422.59 1758.7) scale(0.91 1)" font-size="40.62">8</text><text transform="translate(442.52 1758.7) scale(0.9 1)" font-size="40.62">6</text></g>
<g fill="#000" stroke="#fff" stroke-width="0.6"><text transform="translate(50.19 1816) scale(0.7 1)" font-size="40.32">R</text><text transform="translate(70.49 1816) scale(0.89 1)" font-size="40.32">3</text><text transform="translate(89.35 1816) scale(1.07 1)" font-size="40.32">.</text><text transform="translate(109.66 1816) scale(1.04 1)" font-size="40.32">2</text><text transform="translate(129.95 1816) scale(0.92 1)" font-size="40.32">5</text></g>
<g fill="#000" stroke="#fff" stroke-width="0.6"><text transform="translate(308.84 1903.8) scale(0.95 1)" font-size="40.62">8</text><text transform="translate(328.81 1903.8) scale(1.04 1)" font-size="40.62">.</text><text transform="translate(348.45 1903.8) scale(0.95 1)" font-size="40.62">5</text></g>
<g fill="#000" stroke="#fff" stroke-width="0.6" transform="translate(742.8 0) rotate(-90)"><text transform="translate(-1978.28 0) scale(0.86 1)" font-size="40.62">4</text><text transform="translate(-1958.53 0) scale(0.97 1)" font-size="40.62">2</text></g>
<g fill="#000" stroke="#fff" stroke-width="0.6" transform="translate(808.7 0) rotate(-90)"><text transform="translate(-2012.04 0) scale(0.87 1)" font-size="40.93">6</text><text transform="translate(-1992.48 0) scale(0.91 1)" font-size="40.93">3</text><text transform="translate(-1971.29 0) scale(0.66 1)" font-size="40.93">.</text><text transform="translate(-1952.73 0) scale(0.88 1)" font-size="40.93">3</text><text transform="translate(-1931.36 0) scale(0.88 1)" font-size="40.93">9</text></g>
<g fill="#000" stroke="#fff" stroke-width="0.6"><text transform="translate(917.73 665.9) scale(0.88 1)" font-size="53.76">P</text><text transform="translate(945.95 665.9) scale(0.95 1)" font-size="53.76">2</text></g>
<g fill="#000" stroke="#fff" stroke-width="0.6"><text transform="translate(1439.84 665) scale(0.88 1)" font-size="53.45">P</text><text transform="translate(1469.21 665) scale(0.79 1)" font-size="53.45">1</text></g>
<g fill="#ff0000" stroke="#fff" stroke-width="1.4"><text transform="translate(1267.77 304.5) scale(1.23 1)" font-size="52.54">I</text><text transform="translate(1292.57 304.5) scale(0.98 1)" font-size="52.54">p</text></g>
<g fill="#000" stroke="#fff" stroke-width="0.6" transform="translate(108 420.5) rotate(35.3) skewX(-8)"><text transform="translate(1.23 0) scale(0.62 1)" font-size="42.76">R</text><text transform="translate(19.69 0) scale(0.93 1)" font-size="42.76">5</text><text transform="translate(39.25 0) scale(0.93 1)" font-size="42.76">2</text><text transform="translate(60.21 0) scale(0.99 1)" font-size="42.76">.</text><text transform="translate(76.69 0) scale(0.93 1)" font-size="42.76">5</text></g>
<g fill="#000" stroke="#fff" stroke-width="0.6" transform="translate(73 511.3) rotate(21.26) skewX(-8)"><text transform="translate(33.49 0) scale(0.84 1)" font-size="42">6</text><text transform="translate(52.65 0) scale(0.84 1)" font-size="42">0</text></g>
<g fill="none" stroke="#000" stroke-width="1.3" transform="translate(71.6 515.3) rotate(21.26)">
<ellipse cx="13.5" cy="-17" rx="9.5" ry="10"/><line x1="2.5" y1="-5" x2="26.5" y2="-30"/>
</g>
<g stroke="#ff0000" stroke-width="2.6" stroke-linecap="round">
<line x1="1403.2" y1="618.8" x2="1403.2" y2="637.8"/>
<line x1="1394.97" y1="623.55" x2="1411.43" y2="633.05"/>
<line x1="1411.43" y1="623.55" x2="1394.97" y2="633.05"/>
</g>
<g stroke="#000" stroke-width="2.3" fill="none" stroke-linecap="butt">
<path d="M 1420.4 337.3 V 357.5 M 1412.6 347.4 H 1428.6 M 1414.5 355.5 H 1427.3 M 1411.3 363.8 H 1430.5 M 1429.5 347 H 1441 M 1436 336.8 V 364.5 L 1433.5 365.5 M 1430 352.5 L 1432 357"/>
<path d="M 1420.4 357.5 V 364"/>
<path d="M 1412.6 381.1 L 1415.8 384.8 M 1412.2 389.4 L 1415.4 393 M 1413.1 407.6 L 1417.7 396.7"/>
<path d="M 1420 383.9 H 1441 M 1425.5 380.2 V 386.6 M 1435.5 380.2 V 386.6"/>
<path d="M 1420.9 388.4 H 1428.2 V 393 H 1420.9 Z M 1431.4 388.4 H 1439.1 V 393 H 1431.4 Z" stroke-width="1.8"/>
<path d="M 1425 394 L 1421.3 399.4 M 1422.2 397 V 408.5 M 1431.4 394 V 407.6 M 1424.1 397.6 H 1439.1 M 1424.1 402.3 H 1439.1 M 1424.1 407.6 H 1441 M 1435 394.2 L 1437 396"/>
<path d="M 1412 424.3 H 1441 M 1426 424.3 L 1424 430 M 1415.5 430 V 452.4 M 1415.5 430 H 1436.5 V 452.4 M 1422 430 V 451 M 1429.5 430 V 451 M 1422 437.5 H 1429.5 M 1422 444.5 H 1429.5 M 1415.5 451 H 1436.5"/>
</g>
</svg></body></html>
